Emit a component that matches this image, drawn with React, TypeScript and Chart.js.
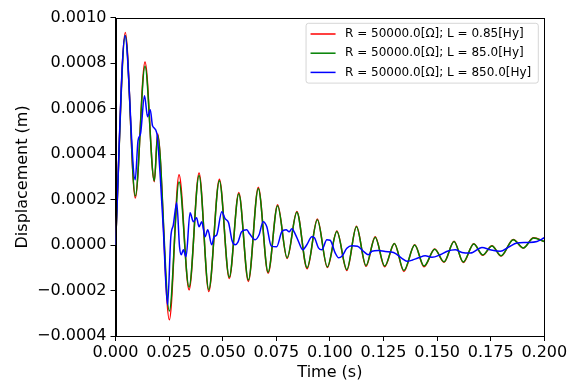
import React, { useEffect, useRef } from 'react';
import { Chart, registerables } from 'chart.js';

Chart.register(...registerables);

const seriesLabels = [
  'R = 50000.0[Ω]; L = 0.85[Hy]',
  'R = 50000.0[Ω]; L = 85.0[Hy]',
  'R = 50000.0[Ω]; L = 850.0[Hy]',
];
const seriesColors = ['#ff0000', '#008000', '#0000ff'];

const xTitle = 'Time (s)';
const yTitle = 'Displacement (m)';

const xTickValues = [0, 0.025, 0.05, 0.075, 0.1, 0.125, 0.15, 0.175, 0.2];
const yTickValues = [-0.0004, -0.0002, 0, 0.0002, 0.0004, 0.0006, 0.0008, 0.001];

// Time samples (s) for the L = 0.85 and L = 85.0 responses
const timeRG = [
  0, 0.00457, 0.00924, 0.01377, 0.01811, 0.01965, 0.02511, 0.02964, 0.03431, 0.03897,
  0.0435, 0.04845, 0.05307, 0.0575, 0.06198, 0.0666, 0.07118, 0.07561, 0.08005, 0.08457,
  0.08938, 0.09414, 0.09881, 0.10324, 0.10791, 0.11239, 0.11683, 0.12112, 0.12555, 0.13008,
  0.13451, 0.13956, 0.1439, 0.14889, 0.15323, 0.1579, 0.16219, 0.16709, 0.17129, 0.17559,
  0.17984, 0.18553, 0.1902, 0.195, 0.2,
];

const dispRed = [
  0, 0.000935, 0.000207, 0.000805, 0.000279, 0.00049, -0.000329, 0.000309, -0.000197, 0.000317,
  -0.000204, 0.00029, -0.000147, 0.000231, -0.00016, 0.000254, -0.000124, 0.000177, -0.0000594, 0.000148,
  -0.000104, 0.000115, -0.000099, 0.0000616, -0.000112, 0.0000827, -0.0000933, 0.0000365, -0.0000955, 0.0000075,
  -0.000116, 0.0000013, -0.0000955, -0.0000176, -0.0000757, 0.0000167, -0.0000766, 0.0000057, -0.0000449, -0.0000031,
  -0.0000484, 0.0000251, -0.0000132, 0.0000321, 0.0000158,
];

const dispGreen = [
  0, 0.000922, 0.000216, 0.000787, 0.000283, 0.000484, -0.00029, 0.000278, -0.000185, 0.000306,
  -0.000196, 0.000283, -0.000141, 0.000226, -0.000154, 0.000249, -0.000119, 0.000173, -0.000056, 0.000145,
  -0.0001, 0.000112, -0.000096, 0.0000595, -0.000108, 0.0000805, -0.0000905, 0.000035, -0.0000925, 0.0000065,
  -0.000112, 0.0000005, -0.0000925, -0.000018, -0.0000735, 0.0000155, -0.0000745, 0.000005, -0.0000435, -0.0000035,
  -0.000047, 0.000024, -0.0000125, 0.000031, 0.0000155,
];

// Time samples (s) for the L = 850.0 response
const timeBlue = [
  0, 0.00443, 0.00919, 0.0105, 0.01167, 0.01354, 0.01494, 0.0162, 0.01727, 0.01923,
  0.02077, 0.02231, 0.02427, 0.02581, 0.02698, 0.02856, 0.02987, 0.03066, 0.03164, 0.03291,
  0.03477, 0.03631, 0.03781, 0.03897, 0.04023, 0.04177, 0.04303, 0.0449, 0.04597, 0.04723,
  0.04957, 0.05111, 0.05274, 0.05438, 0.05578, 0.05718, 0.05881, 0.06124, 0.06254, 0.06511,
  0.06698, 0.06884, 0.07057, 0.07258, 0.07515, 0.07757, 0.07958, 0.08098, 0.08224, 0.08378,
  0.08541, 0.08728, 0.08924, 0.09157, 0.09279, 0.09465, 0.09624, 0.09858, 0.10012, 0.10245,
  0.10408, 0.10558, 0.10791, 0.11024, 0.11286, 0.11566, 0.11799, 0.11958, 0.12266, 0.12579,
  0.12966, 0.13358, 0.13592, 0.13825, 0.14133, 0.14446, 0.14758, 0.15146, 0.15473, 0.15846,
  0.16159, 0.16546, 0.17092, 0.1748, 0.17946, 0.18334, 0.18726, 0.19192, 0.19659, 0.2,
];

const dispBlue = [
  0, 0.000921, 0.000287, 0.000459, 0.00049, 0.000657, 0.000565, 0.000595, 0.000525, 0.000494,
  0.000318, 0.0000673, -0.000263, 0.0000365, 0.0000893, 0.000186, -0.0000075, -0.0000427, -0.0000207, -0.0000515,
  0.000142, 0.000103, 0.00012, 0.0000805, 0.000103, 0.0000365, 0.0000673, 0.0000013, 0.0000365, 0.0000453,
  0.000147, 0.000116, 0.0000981, 0.0000189, 0.0000013, 0.0000145, 0.0000585, 0.0000673, 0.0000497, 0.0000233,
  0.0000453, 0.000103, 0.0000805, -0.0000031, -0.0000075, 0.0000585, 0.0000673, 0.0000585, 0.0000717, 0.0000497,
  0.0000145, -0.0000207, 0.0000013, 0.0000365, 0.0000321, -0.0000119, -0.0000207, 0.0000233, 0.0000211, -0.0000339,
  -0.0000559, -0.0000493, -0.0000141, -0.0000031, -0.0000053, -0.0000273, -0.0000427, -0.0000273, -0.0000238, -0.0000282,
  -0.0000326, -0.0000581, -0.0000713, -0.0000669, -0.0000559, -0.0000471, -0.0000537, -0.0000427, -0.0000273, -0.0000207,
  -0.0000326, -0.0000352, -0.0000106, -0.0000207, -0.0000273, -0.0000088, 0.0000088, 0.0000114, 0.0000158, 0.0000321,
];

const FONT = '"DejaVu Sans", sans-serif';

const framePlugin = {
  id: 'mplFrame',
  afterDatasetsDraw(chart: any) {
    const { ctx, chartArea } = chart;
    ctx.save();
    ctx.strokeStyle = '#000';
    ctx.lineWidth = 1;
    const l = Math.round(chartArea.left) + 0.5;
    const t = Math.round(chartArea.top) + 0.5;
    const r = Math.round(chartArea.right) + 0.5;
    const b = Math.round(chartArea.bottom) + 0.5;
    ctx.strokeRect(l, t, r - l, b - t);
    ctx.restore();
  },
};

const legendPlugin = {
  id: 'mplLegend',
  afterDraw(chart: any) {
    const { ctx, chartArea } = chart;
    const datasets = chart.data.datasets;
    ctx.save();
    ctx.font = `12px ${FONT}`;
    const maxW = Math.max(...datasets.map((d: any) => ctx.measureText(d.label).width));
    const padL = 4.5, lineLen = 25, gap = 9.5, padR = 7, rowH = 19.2, padT = 10.7;
    const w = padL + lineLen + gap + maxW + padR;
    const h = padT * 2 + rowH * (datasets.length - 1);
    const right = chartArea.right - 6;
    const left = right - w;
    const top = chartArea.top + 5.5;
    const rad = 2.5;
    ctx.beginPath();
    ctx.moveTo(left + rad, top);
    ctx.lineTo(left + w - rad, top);
    ctx.quadraticCurveTo(left + w, top, left + w, top + rad);
    ctx.lineTo(left + w, top + h - rad);
    ctx.quadraticCurveTo(left + w, top + h, left + w - rad, top + h);
    ctx.lineTo(left + rad, top + h);
    ctx.quadraticCurveTo(left, top + h, left, top + h - rad);
    ctx.lineTo(left, top + rad);
    ctx.quadraticCurveTo(left, top, left + rad, top);
    ctx.closePath();
    ctx.fillStyle = 'rgba(255,255,255,0.8)';
    ctx.fill();
    ctx.strokeStyle = 'rgba(204,204,204,0.8)';
    ctx.lineWidth = 1;
    ctx.stroke();
    datasets.forEach((d: any, i: number) => {
      const y = top + padT + i * rowH;
      ctx.strokeStyle = d.borderColor;
      ctx.lineWidth = 1.5;
      ctx.beginPath();
      ctx.moveTo(left + padL, y);
      ctx.lineTo(left + padL + lineLen, y);
      ctx.stroke();
      ctx.fillStyle = '#000';
      ctx.textBaseline = 'middle';
      ctx.textAlign = 'left';
      ctx.fillText(d.label, left + padL + lineLen + gap, y);
    });
    ctx.restore();
  },
};

function fmtMinus(s: string) {
  return s.replace('-', '\u2212');
}

export default function App() {
  const canvasRef = useRef<HTMLCanvasElement | null>(null);

  useEffect(() => {
    const canvas = canvasRef.current;
    if (!canvas) return;
    const seriesTimes = [timeRG, timeRG, timeBlue];
    const seriesValues = [dispRed, dispGreen, dispBlue];
    const chart = new Chart(canvas, {
      type: 'line',
      data: {
        datasets: seriesLabels.map((label, k) => ({
          label,
          data: seriesTimes[k].map((t, i) => ({ x: t, y: seriesValues[k][i] })),
          borderColor: seriesColors[k],
          backgroundColor: seriesColors[k],
          borderWidth: 1.5,
          pointRadius: 0,
          fill: false,
          cubicInterpolationMode: 'monotone' as const,
          order: 3 - k,
        })),
      },
      options: {
        responsive: false,
        animation: false,
        layout: { padding: { left: 0, top: 17.8, right: 22.7, bottom: 0 } },
        plugins: {
          legend: { display: false },
          tooltip: { enabled: false },
        },
        scales: {
          x: {
            type: 'linear',
            min: 0,
            max: 0.2,
            afterBuildTicks: (scale: any) => {
              scale.ticks = xTickValues.map((v) => ({ value: v }));
            },
            afterFit: (scale: any) => {
              scale.height = 48;
              scale.paddingLeft = 0;
              scale.paddingRight = 0;
            },
            grid: { drawOnChartArea: false, drawTicks: true, tickLength: 5, color: '#000', lineWidth: 1 },
            border: { display: true, color: '#000', width: 1 },
            ticks: {
              autoSkip: false,
              maxRotation: 0,
              padding: 2,
              color: '#000',
              font: { family: FONT, size: 16 },
              callback: (v: any) => fmtMinus(Number(v).toFixed(3)),
            },
            title: {
              display: true,
              text: xTitle,
              color: '#000',
              font: { family: FONT, size: 16 },
              padding: { top: 0, bottom: 2 },
            },
          },
          y: {
            type: 'linear',
            min: -0.0004,
            max: 0.001,
            afterBuildTicks: (scale: any) => {
              scale.ticks = yTickValues.map((v) => ({ value: v }));
            },
            afterFit: (scale: any) => {
              scale.width = 115.5;
              scale.paddingTop = 0;
              scale.paddingBottom = 0;
            },
            grid: { drawOnChartArea: false, drawTicks: true, tickLength: 5, color: '#000', lineWidth: 1 },
            border: { display: true, color: '#000', width: 1 },
            ticks: {
              padding: 4,
              color: '#000',
              font: { family: FONT, size: 16 },
              callback: (v: any) => fmtMinus(Number(v).toFixed(4)),
            },
            title: {
              display: true,
              text: yTitle,
              color: '#000',
              font: { family: FONT, size: 16 },
              padding: { top: 13, bottom: 0 },
            },
          },
        },
      },
      plugins: [framePlugin, legendPlugin],
    });
    return () => chart.destroy();
  }, []);

  return (
    <div style={{ position: 'fixed', left: 0, top: 0, width: 567, height: 384, background: '#fff' }}>
      <canvas ref={canvasRef} width={567} height={384} style={{ display: 'block' }} />
    </div>
  );
}
